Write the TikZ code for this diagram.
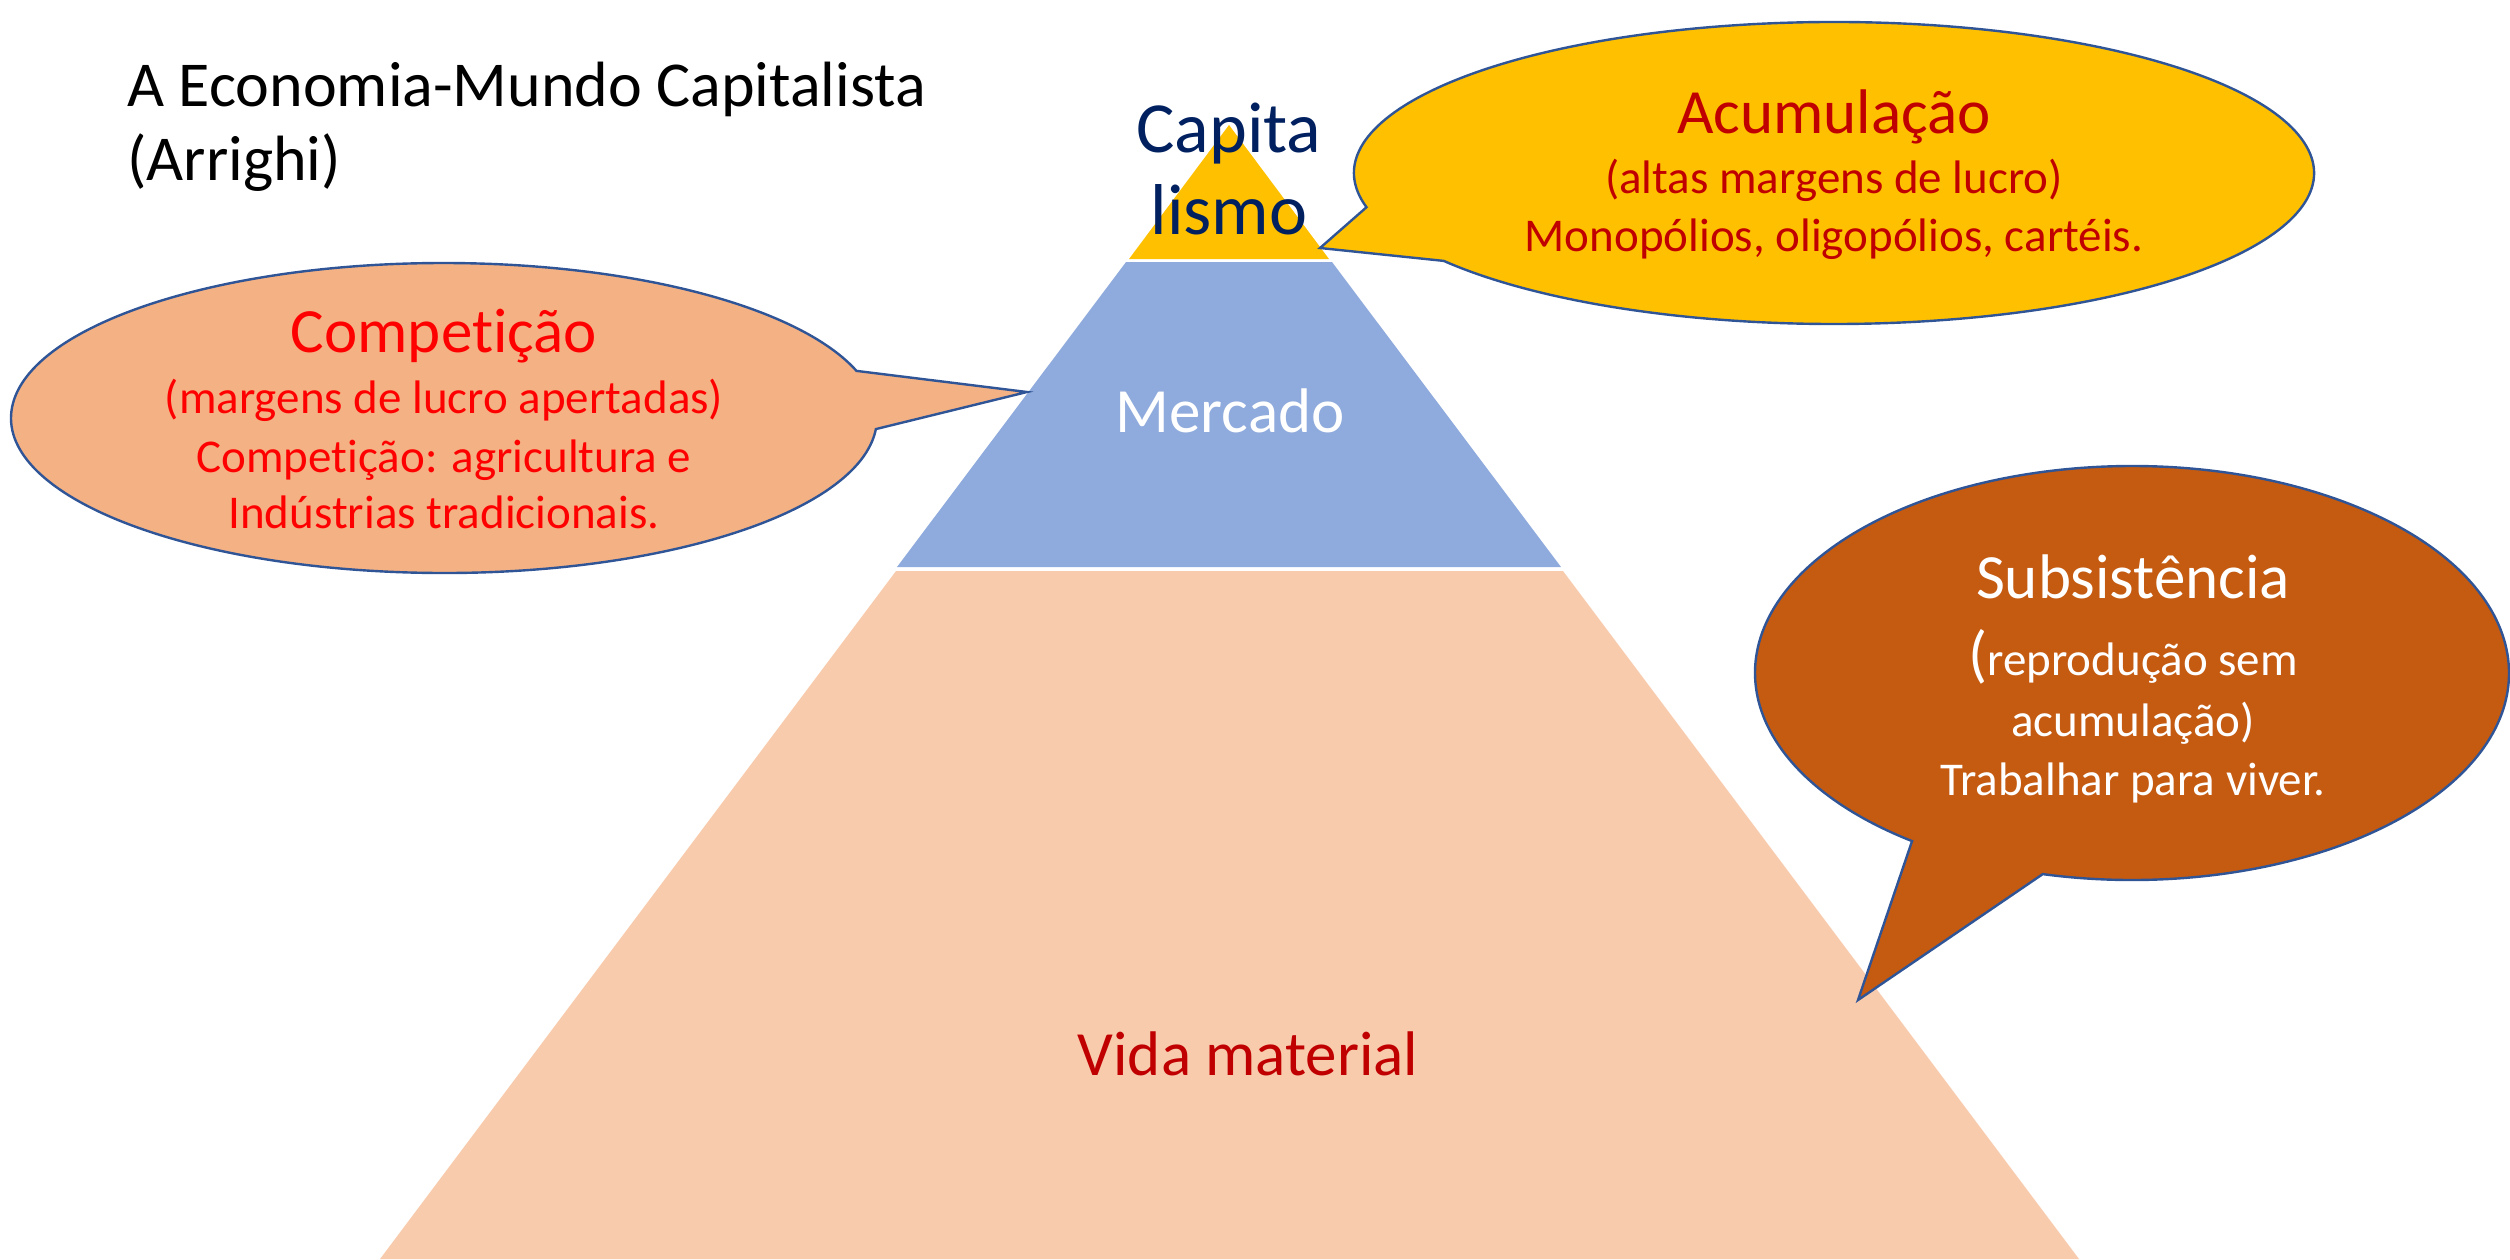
\documentclass[tikz,border=0pt]{standalone}
\usepackage{fontspec}
\setmainfont{Carlito}[Ligatures={NoCommon,NoContextual}]
\definecolor{capyellow}{HTML}{FFC000}
\definecolor{mktblue}{HTML}{8FAADC}
\definecolor{vidapeach}{HTML}{F8CBAD}
\definecolor{compfill}{HTML}{F4B183}
\definecolor{subsfill}{HTML}{C55A11}
\definecolor{bubline}{HTML}{2F5597}
\definecolor{darkred}{HTML}{C00000}
\definecolor{navy}{HTML}{002060}
\newcommand{\fs}[1]{\fontsize{#1}{1.2\dimexpr#1pt\relax}\selectfont}
\begin{document}
\begin{tikzpicture}[x=0.5pt,y=-0.5pt,
  bubble/.style={draw=bubline,line width=1.2pt,line join=miter},
  big/.style={font=\fs{31.5},inner sep=0pt,anchor=base},
  small/.style={font=\fs{23.5},inner sep=0pt,anchor=base},
  layer/.style={draw=none}]
\useasboundingbox (0,0) rectangle (2510,1259);
% pyramid layers
\fill[capyellow] (1229,125) -- (1329,259) -- (1129,259) -- cycle;
\fill[mktblue] (1126,262) -- (1332,262) -- (1561,567) -- (897,567) -- cycle;
\fill[vidapeach] (896,571) -- (1563,571) -- (2079,1259) -- (380,1259) -- cycle;
% title
\node[font=\fs{32},inner sep=0pt,anchor=base west] (t1) at (127,106) {A Economia-Mundo Capitalista};
\node[font=\fs{32},inner sep=0pt,anchor=base west] (t2) at (127,180) {(Arrighi)};
% layer labels
\node[big,text=white] (mercado) at (1230,432) {Mercado};
\node[big,text=darkred] (vida) at (1248,1075) {Vida material};
% Acumulacao bubble
\coordinate (acumtip) at (1320,248);
\filldraw[bubble,fill=capyellow] (1834,173) ++(166.9:480 and 151)
  arc[start angle=166.9,end angle=504.4,x radius=480,y radius=151] -- (acumtip) -- cycle;
\node[big,text=darkred] (acum1) at (1834,133) {Acumulação};
\node[small,text=darkred] (acum2) at (1834,193) {(altas margens de lucro)};
\node[small,text=darkred] (acum3) at (1834,251) {Monopólios, oligopólios, cartéis.};
% Competicao bubble
\coordinate (comptip) at (1027,392);
\filldraw[bubble,fill=compfill] (444,418) ++(4.1:433 and 155)
  arc[start angle=4.1,end angle=342.3,x radius=433,y radius=155] -- (comptip) -- cycle;
\node[big,text=red] (comp1) at (444,352) {Competição};
\node[small,text=red] (comp2) at (444,413) {(margens de lucro apertadas)};
\node[small,text=red] (comp3) at (444,472) {Competição: agricultura e};
\node[small,text=red] (comp4) at (444,528) {Indústrias tradicionais.};
% Subsistencia bubble
\coordinate (substip) at (1858,1000);
\filldraw[bubble,fill=subsfill] (2132,673) ++(125.7:377 and 207)
  arc[start angle=125.7,end angle=463.7,x radius=377,y radius=207] -- (substip) -- cycle;
\node[big,text=white] (subs1) at (2133,598) {Subsistência};
\node[small,text=white] (subs2) at (2133,675) {{\fs{31.5}(}reprodução sem};
\node[small,text=white] (subs3) at (2133,736) {acumulação)};
\node[small,text=white] (subs4) at (2133,795) {Trabalhar para viver.};
% top label
\node[font=\fs{36},text=navy,inner sep=0pt,anchor=base] (cap1) at (1229,152) {Capita};
\node[font=\fs{36},text=navy,inner sep=0pt,anchor=base] (cap2) at (1229,234) {lismo};
\end{tikzpicture}
\end{document}
